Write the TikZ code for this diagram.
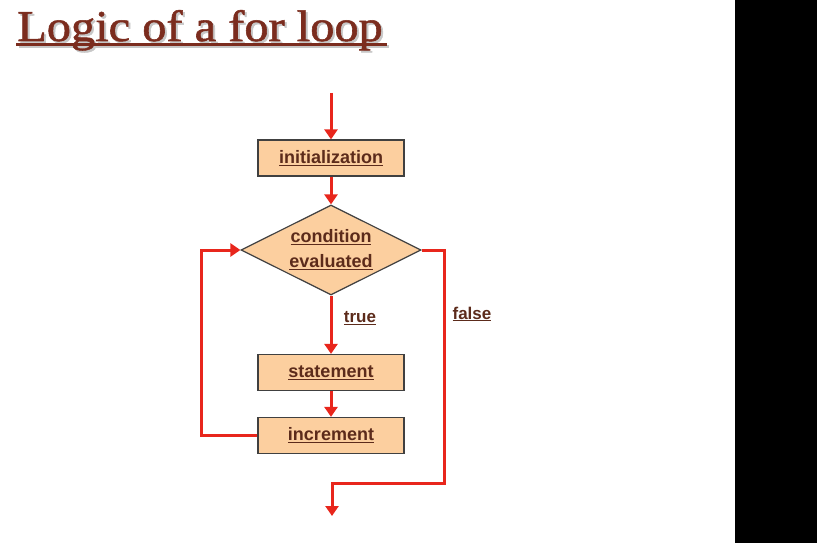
\documentclass[tikz,border=0pt]{standalone}
\usepackage{fontspec}
\setmainfont{Liberation Serif}
\setsansfont{Liberation Sans}
\newfontfamily\titlefont[FakeBold=1.2]{Liberation Serif}
\usetikzlibrary{shapes.geometric,arrows.meta}
\definecolor{boxfill}{HTML}{FCCF9F}
\definecolor{txt}{HTML}{5C2B1B}
\definecolor{titlecol}{HTML}{7B2C1E}
\definecolor{arrowred}{HTML}{E8261C}
\tikzset{
  flowbox/.style={draw=black!75, line width=1.2pt, fill=boxfill, minimum width=146pt, minimum height=36pt, inner sep=0pt, font=\sffamily\bfseries\fontsize{18}{22}\selectfont, text=txt},
  decision/.style={diamond, draw=black!75, line width=1.2pt, fill=boxfill, aspect=2, minimum width=180pt, minimum height=90pt, inner sep=0pt, align=center, font=\sffamily\bfseries\fontsize{18}{25}\selectfont, text=txt},
  lbl/.style={font=\sffamily\bfseries\fontsize{17}{20}\selectfont, text=txt},
  flow/.style={draw=arrowred, line width=3pt, -{Triangle[length=10pt,width=13pt]}},
  titletext/.style={anchor=base west, inner sep=0pt, xscale=1.1, font=\titlefont\fontsize{44}{50}\selectfont}
}
\begin{document}
\begin{tikzpicture}[x=1pt,y=-1pt]
\useasboundingbox (0,0) rectangle (817,543);
\fill[black] (735,0) rectangle (817,543);
% title
\node[titletext, text=black!22] (titleshadow) at (19,43) {Logic of a for loop};
\draw[black!22, line width=3pt] (19,47) -- (389,47);
\node[titletext, text=titlecol] (title) at (17,41) {Logic of a for loop};
\draw[titlecol, line width=2.6pt] (16,44.5) -- (387,44.5);
% nodes
\coordinate (start) at (331,93);
\node[flowbox] (init) at (331,158) {\underline{initialization}};
\node[decision] (cond) at (331,250) {\underline{condition}\\\underline{evaluated}};
\node[flowbox] (stmt) at (331,372.5) {\underline{statement}};
\node[flowbox] (incr) at (331,435.5) {\underline{increment}};
\coordinate (endpt) at (332,516);
\node[lbl] (truelbl) at (360,318) {\underline{true}};
\node[lbl] (falselbl) at (472,314) {\underline{false}};
% connectors
\draw[flow] (start) -- (init.north);
\draw[flow] (init.south) -- (cond.north);
\draw[flow] (cond.south) -- (stmt.north);
\draw[flow] (stmt.south) -- (incr.north);
\draw[flow] (incr.west) -- (201,435.5) -- (201,250) -- (cond.west);
\draw[flow] (cond.east) -- (444,250) -- (444,483) -- (332,483) -- (endpt);
\end{tikzpicture}
\end{document}
